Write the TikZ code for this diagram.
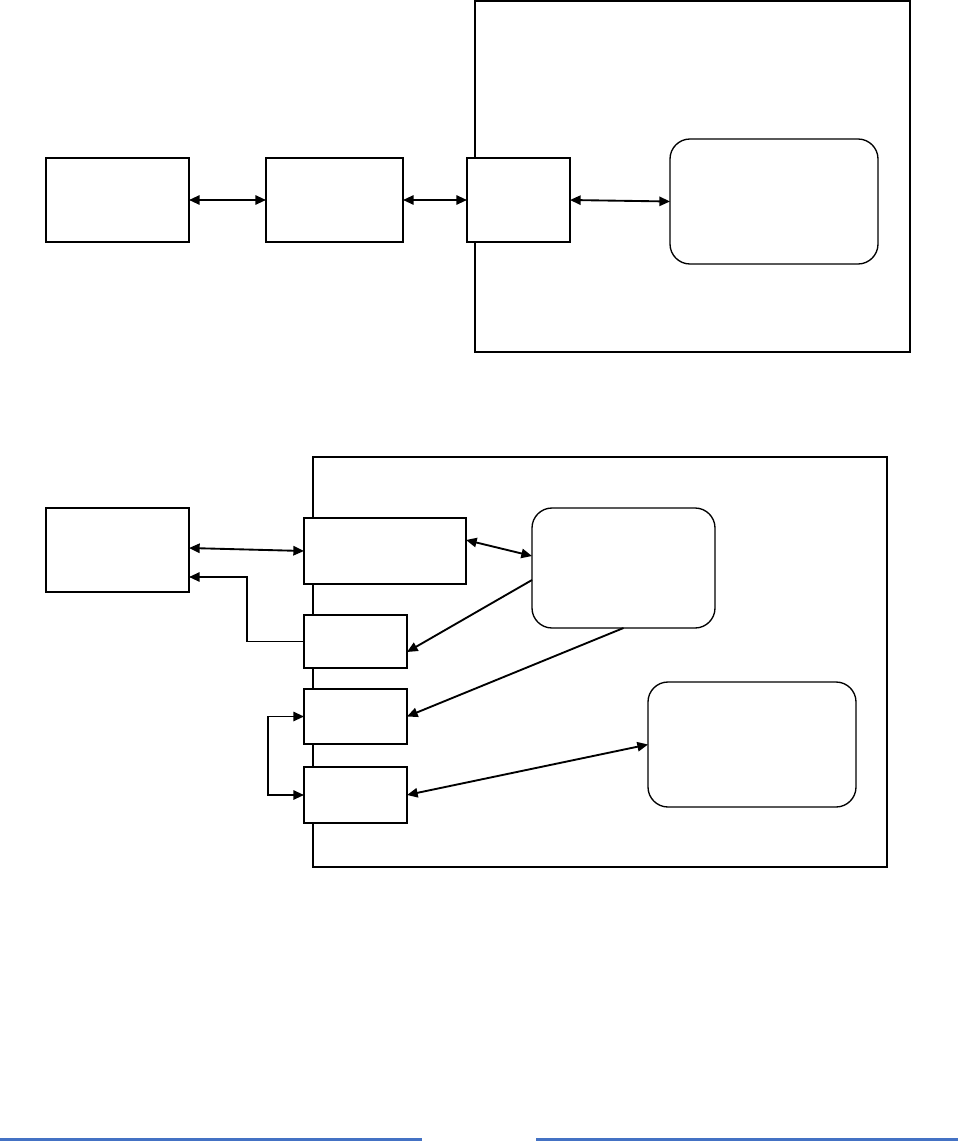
\documentclass[tikz,border=0pt]{standalone}
\usepackage{tikz}
\usepackage{xcolor}
\usetikzlibrary{arrows.meta,calc,positioning}
\definecolor{rulebblue}{RGB}{68,114,196}

\begin{document}
\begin{tikzpicture}[x=0.75pt,y=-0.75pt,
  >={Triangle[length=8pt,width=7pt]},
  blockbox/.style={draw,fill=white,line width=1.5pt,inner sep=0pt,outer sep=0pt},
  roundbox/.style={draw,fill=white,line width=1pt,rounded corners=15pt,inner sep=0pt,outer sep=0pt},
  link/.style={line width=1.4pt}]

%% ── page size ────────────────────────────────────────────────────────────────
\useasboundingbox (0,0) rectangle (958,1141);

%% ════════════════════════════════════════════════════════════════════════════
%%  UPPER DIAGRAM
%% ════════════════════════════════════════════════════════════════════════════
\draw[line width=1pt] (475,1) rectangle (910,352);

\node[blockbox,minimum width=107.25pt,minimum height=63pt] (hostA) at (117.5,200) {};
\node[blockbox,minimum width=102.75pt,minimum height=63pt] (linkA) at (334.5,200) {};
\node[blockbox,minimum width=77.25pt,minimum height=63pt]  (portA) at (518.5,200) {};
\node[roundbox,minimum width=156pt,minimum height=93.75pt] (coreA) at (774,201.5) {};

\draw[link,<->] (hostA.east) -- (linkA.west);
\draw[link,<->] (linkA.east) -- (portA.west);
\draw[link,<->] (portA.east) -- (coreA.west);

%% ════════════════════════════════════════════════════════════════════════════
%%  LOWER DIAGRAM
%% ════════════════════════════════════════════════════════════════════════════
\draw[line width=1.5pt] (313,457) rectangle (887,867);

\node[blockbox,minimum width=107.25pt,minimum height=63pt]  (hostB) at (117.5,550) {};
\node[blockbox,minimum width=121.5pt,minimum height=49.5pt] (busB)  at (385,551) {};
\node[blockbox,minimum width=77.25pt,minimum height=39.75pt] (irqB) at (355.5,641.5) {};
\node[blockbox,minimum width=77.25pt,minimum height=41.25pt] (txB)  at (355.5,716.5) {};
\node[blockbox,minimum width=77.25pt,minimum height=42pt]    (rxB)  at (355.5,795) {};
\node[roundbox,minimum width=137.25pt,minimum height=90pt]   (ctrlB) at (623.5,568) {};
\node[roundbox,minimum width=156pt,minimum height=93.75pt]   (memB)  at (752,744.5) {};

%% host side
\draw[link,<->] ($(hostB.east)+(0,-2)$) -- (busB.west);
\draw[link,->] (irqB.west) -- ++(-57,0) |- ($(hostB.east)+(0,27)$);

%% controller side
\draw[link,<->] ($(busB.east)+(0,-11)$) -- ($(ctrlB.west)+(0,-12)$);
\draw[link,->] ($(ctrlB.west)+(0,12)$) -- ($(irqB.east)+(0,10.5)$);
\draw[link,->] (ctrlB.south) -- (txB.east);
\draw[link,<->] (memB.west) -- (rxB.east);

%% loop back
\draw[link,<->] (txB.west) -- ++(-36,0) |- (rxB.west);

%% ── rule at foot ─────────────────────────────────────────────────────────────
\draw[rulebblue,line width=1.6pt] (0,1139.5) -- (422,1139.5);
\draw[rulebblue,line width=1.6pt] (536,1139.5) -- (958,1139.5);

\end{tikzpicture}
\end{document}
